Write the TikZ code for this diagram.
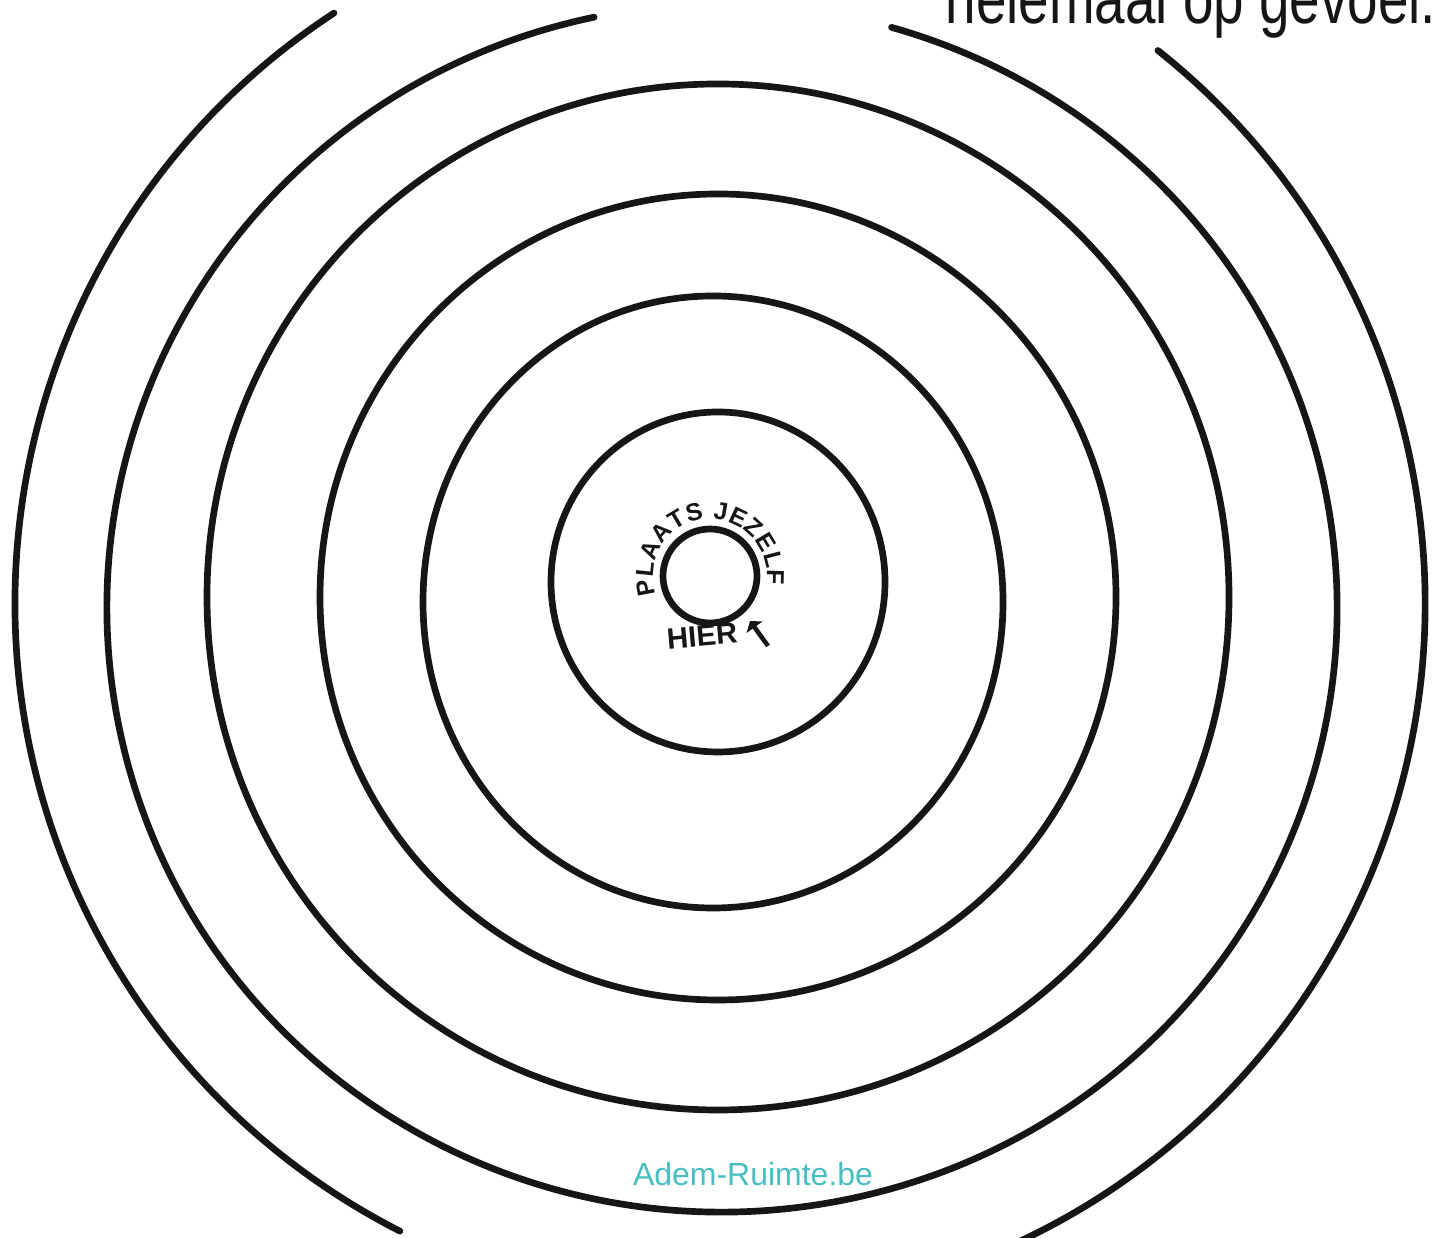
\documentclass[tikz,border=0pt]{standalone}
\usepackage{fontspec}
\setmainfont{Liberation Sans}
\newfontfamily\handfont{Liberation Sans}
\usetikzlibrary{decorations.text,arrows.meta}
\definecolor{inkblack}{RGB}{22,22,22}
\definecolor{watermark}{RGB}{72,190,192}
\begin{document}
\begin{tikzpicture}[x=0.1mm,y=0.1mm,
  ring/.style={draw=inkblack,line width=1.9pt,line cap=round},
  label/.style={inner sep=0pt,text=inkblack,font=\handfont\bfseries\fontsize{8.4}{9}\selectfont}]
\useasboundingbox (0,0) rectangle (1437,1238);
\fill[white] (0,0) rectangle (1437,1238);
\clip (0,0) rectangle (1437,1238);
% rings
\draw[ring] (710,662) circle[radius=47];
\draw[ring] (718,656) ellipse[x radius=167,y radius=170];
\draw[ring] (713,636) ellipse[x radius=290,y radius=306];
\draw[ring] (718,641) ellipse[x radius=398,y radius=403];
\draw[ring] (718,641) ellipse[x radius=511,y radius=513];
\draw[ring] ([shift={(102:615 and 604)}]722,630) arc[start angle=102,end angle=434,x radius=615,y radius=604];
\draw[ring] ([shift={(123.2:705)}]720,635) arc[start angle=123.2,end angle=243,radius=705];
\draw[ring] ([shift={(-80:705)}]720,635) arc[start angle=-80,end angle=51.6,radius=705];
% curved label
\path[decorate,decoration={text along path,
   text={|\handfont\bfseries\fontsize{7}{8}\selectfont\color{inkblack}|PLAATS JEZELF},
   text align={fit to path}}]
   ([shift={(199:57)}]710,662) arc[start angle=199,end angle=-9,radius=57];
\node[label,anchor=base,rotate=5] (hier) at (703,592) {HIER};
\coordinate (arrowtail) at (768,592);
\coordinate (arrowtip) at (750,617);
\draw[inkblack,line width=1.3pt,-{Triangle[length=2.2pt,width=5.5pt]}] (arrowtail) -- (arrowtip);
% watermark
\node[anchor=base,inner sep=0pt,text=watermark,font=\fontsize{9.1}{11}\selectfont] (wm) at (753,52) {Adem-Ruimte.be};
% cut-off handwritten line at top
\node[anchor=base east,inner sep=0pt,text=inkblack,yscale=1.3,transform shape,
  font=\handfont\fontsize{15.6}{18}\selectfont] (topline) at (1437,1214) {helemaal op gevoel.};
\end{tikzpicture}
\end{document}
